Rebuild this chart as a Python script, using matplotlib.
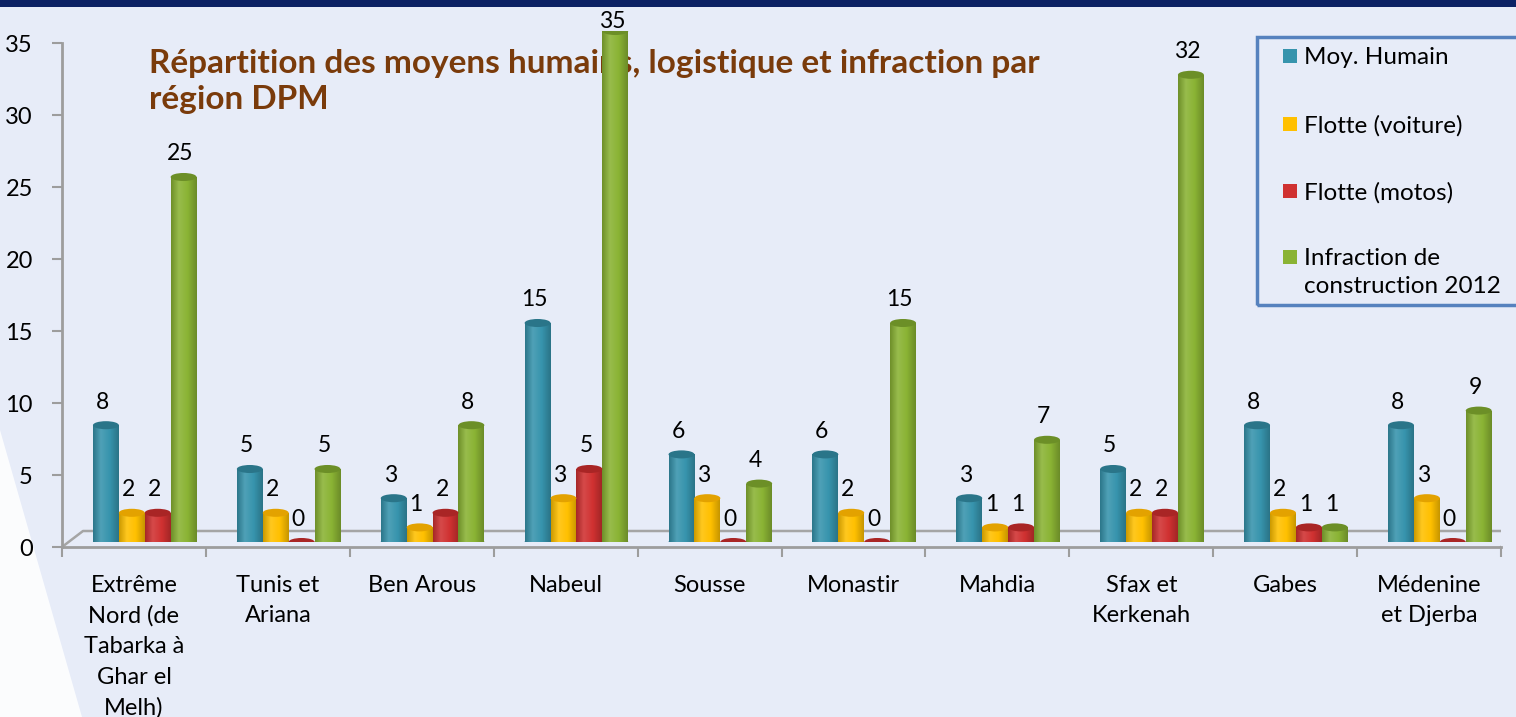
import numpy as np
import matplotlib.pyplot as plt
from matplotlib.patches import Rectangle, Ellipse, Polygon
from matplotlib.lines import Line2D
from matplotlib.colors import LinearSegmentedColormap, to_rgb


regions = ['Extrême\nNord (de\nTabarka à\nGhar el\nMelh)', 'Tunis et\nAriana',
           'Ben Arous', 'Nabeul', 'Sousse', 'Monastir', 'Mahdia',
           'Sfax et\nKerkenah', 'Gabes', 'Médenine\net Djerba']
series_names = ['Moy. Humain', 'Flotte (voiture)', 'Flotte (motos)',
                'Infraction de\nconstruction 2012']
moy_humain = [8, 5, 3, 15, 6, 6, 3, 5, 8, 8]
flotte_voiture = [2, 2, 1, 3, 3, 2, 1, 2, 2, 3]
flotte_motos = [2, 0, 2, 5, 0, 0, 1, 2, 1, 0]
infraction = [25, 5, 8, 35, 4, 15, 7, 32, 1, 9]
y_ticks = [0, 5, 10, 15, 20, 25, 30, 35]
title = 'Répartition des moyens humains, logistique et infraction par\nrégion DPM'

colors = ['#3794ad', '#ffc000', '#d03131', '#8ab334']
top_colors = ['#2a7589', '#e3a200', '#a92525', '#6c8f27']

W, H = 1516, 717
plt.rcParams['font.family'] = ['Lato', 'DejaVu Sans']


def px(x, y):
    return x / W, 1 - y / H


def shade(c, k):
    r = np.array(to_rgb(c))
    return tuple(r * k) if k < 1 else tuple(r + (1 - r) * (k - 1))


fig = plt.figure(figsize=(W / 100, H / 100), dpi=100, facecolor='#e7ecf8')
fig.patches.append(Rectangle(px(0, 7), 1, 7 / H, transform=fig.transFigure,
                             fc='#0c2264', lw=0, zorder=-2))
fig.patches.append(Polygon([px(0, 430), px(0, 717), px(82, 717)],
                           transform=fig.transFigure, fc='white', lw=0,
                           alpha=0.85, zorder=-2))

# axis with ticks (front plane)
ax = fig.add_axes([62 / W, (H - 547) / H, (1501 - 62) / W, (547 - 43) / H])
ax.set_facecolor('none')
ax.set_xlim(-0.5, 9.5)
ax.set_ylim(0, 35)
for s in ['top', 'right']:
    ax.spines[s].set_visible(False)
for s in ['left', 'bottom']:
    ax.spines[s].set_color('#9d9d9d')
    ax.spines[s].set_linewidth(2)
ax.set_yticks(y_ticks)
ax.tick_params(axis='y', length=7, width=1.5, color='#9d9d9d', labelsize=17, pad=14)
ax.set_xticks(range(len(regions)), regions, linespacing=1.55)
ax.tick_params(axis='x', which='major', length=0, labelsize=17, pad=20)
ax.set_xticks(np.arange(-0.5, len(regions)), minor=True)
ax.tick_params(axis='x', which='minor', length=7, width=1.5, color='#9d9d9d')

# 3d floor
floor_x = [62, 83, 1530]
floor_y = [547, 531, 531]
ax.add_line(Line2D([px(x, 0)[0] for x in floor_x], [px(0, y)[1] for y in floor_y],
                   transform=fig.transFigure, color='#a5a5a5', lw=1.8, zorder=0))
ax.add_line(Line2D([px(1501, 0)[0], px(1522, 0)[0]], [px(0, 547)[1], px(0, 531)[1]],
                   transform=fig.transFigure, color='#a5a5a5', lw=1.8, zorder=0))

ax.text(*px(149, 49), title, transform=fig.transFigure, fontsize=24,
        fontweight='bold', color='#7a3b0b', ha='left', va='top',
        linespacing=1.3, zorder=1)

# bars (mid depth plane)
top_px, base_px = 31, 542
ax2 = fig.add_axes([62 / W, (H - base_px) / H, (1501 - 62) / W, (base_px - top_px) / H])
ax2.axis('off')
unit_px = (base_px - top_px) / 35
bw = 0.18
offsets = [-0.195, -0.015, 0.165, 0.345]
eh = 0.55
grad = np.linspace(0, 1, 64).reshape(1, -1)
series = [moy_humain, flotte_voiture, flotte_motos, infraction]
for j, vals in enumerate(series):
    c = colors[j]
    cmap = LinearSegmentedColormap.from_list(
        'cyl', [(0, shade(c, 0.8)), (0.3, shade(c, 1.12)), (0.65, c), (1, shade(c, 0.78))])
    xs = np.arange(len(regions)) + offsets[j]
    bars = ax2.bar(xs, vals, bw, color=c, lw=0, zorder=2)
    for b, v in zip(bars, vals):
        xc = b.get_x() + bw / 2
        if v > 0:
            ax2.add_patch(Ellipse((xc, 0), bw, eh, fc=shade(c, 0.85), lw=0, zorder=1.5))
            im = ax2.imshow(grad, extent=[b.get_x(), b.get_x() + bw, 0, v],
                            cmap=cmap, aspect='auto', zorder=2.1)
            im.set_clip_path(b)
        ax2.add_patch(Ellipse((xc, v), bw, eh, fc=top_colors[j], lw=0, zorder=2.2))
        bar_top = base_px - v * unit_px
        lift = min(23, bar_top - 22) * 0.72
        ax2.annotate(str(v), (xc, v), xytext=(-2.5, lift), textcoords='offset points',
                     ha='center', va='center', fontsize=16.5, zorder=3)
ax2.set_xlim(-0.5, 9.5)
ax2.set_ylim(0, 35)

# legend
fig.patches.append(Rectangle(px(1257, 305), (1530 - 1257) / W, (305 - 37) / H,
                             transform=fig.transFigure, fill=False,
                             ec='#5682be', lw=2.5, zorder=5))
legend_y = [56, 124, 191, 257]
for name, c, y in zip(series_names, colors, legend_y):
    fig.patches.append(Rectangle(px(1283, y + 7), 14 / W, 14 / H,
                                 transform=fig.transFigure, fc=c, lw=0, zorder=5))
    fig.text(*px(1304, y - 9), name, fontsize=17.5, ha='left', va='top',
             linespacing=1.4, zorder=5)

fig.savefig('out.png', dpi=100, facecolor=fig.get_facecolor())
